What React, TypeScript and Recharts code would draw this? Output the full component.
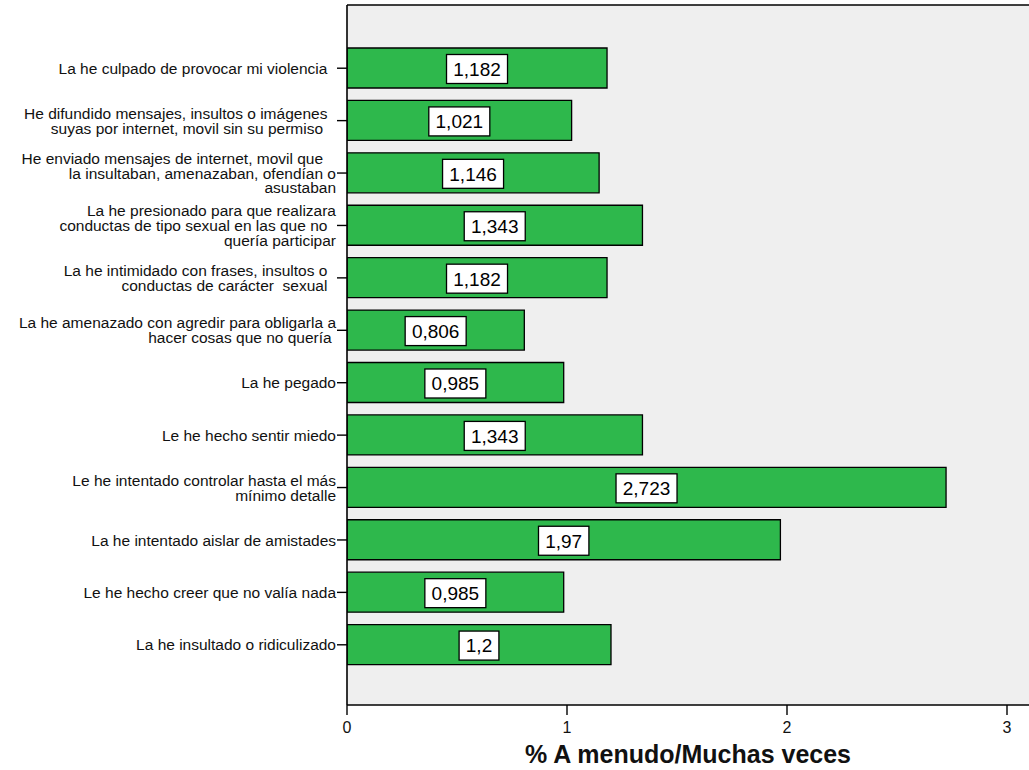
import React from 'react';
import { BarChart, Bar, XAxis, YAxis, CartesianGrid, LabelList } from 'recharts';

// category labels, line breaks as in the original (trailing spaces kept)
const categories = [
  'La he culpado de provocar mi violencia  ',
  'He difundido mensajes, insultos o imágenes  \nsuyas por internet, movil sin su permiso   ',
  'He enviado mensajes de internet, movil que   \nla insultaban, amenazaban, ofendían o\nasustaban',
  'La he presionado para que realizara\nconductas de tipo sexual en las que no  \nquería participar',
  'La he intimidado con frases, insultos o  \nconductas de carácter  sexual  ',
  'La he amenazado con agredir para obligarla a\nhacer cosas que no quería ',
  'La he pegado',
  'Le he hecho sentir miedo',
  'Le he intentado controlar hasta el más\nmínimo detalle',
  'La he intentado aislar de amistades',
  'Le he hecho creer que no valía nada',
  'La he insultado o ridiculizado',
];
const values = [1.182, 1.021, 1.146, 1.343, 1.182, 0.806, 0.985, 1.343, 2.723, 1.97, 0.985, 1.2];
const valueLabels = ['1,182', '1,021', '1,146', '1,343', '1,182', '0,806', '0,985', '1,343', '2,723', '1,97', '0,985', '1,2'];
const xTicks = [0, 1, 2, 3];

const data = categories.map((name, i) => ({ name, value: values[i], label: valueLabels[i] }));

const FONT = '"Liberation Sans", Arial, sans-serif';

const CategoryTick = ({ x, y, payload }: any) => {
  const lines = String(payload.value).split('\n');
  const lh = 14.8;
  return (
    <text x={x} y={y} textAnchor="end" fontFamily={FONT} fontSize={15.5} fill="#111" style={{ whiteSpace: 'pre' }}>
      {lines.map((l, i) => (
        <tspan key={i} x={x} y={y + (i - (lines.length - 1) / 2) * lh} dy="0.36em">{l}</tspan>
      ))}
    </text>
  );
};

const ValueTick = ({ x, y, payload }: any) => (
  <text x={x} y={y} dy="0.71em" textAnchor="middle" fontFamily={FONT} fontSize={16} fill="#111">
    {payload.value}
  </text>
);

const ValueBox = ({ x, y, width, height, value }: any) => {
  const txt = String(value);
  const w = txt.length * 10.6 + 8;
  const h = 29;
  const cx = x + width / 2;
  const cy = y + height / 2 + 1;
  return (
    <g>
      <rect x={cx - w / 2} y={cy - h / 2} width={w} height={h} fill="#fff" stroke="#000" strokeWidth={1.3} />
      <text x={cx} y={cy} dy="0.36em" textAnchor="middle" fontFamily={FONT} fontSize={19} fill="#000">{txt}</text>
    </g>
  );
};

export default function App() {
  return (
    <div style={{ position: 'absolute', left: 0, top: 0, background: '#fff' }}>
      <BarChart
        width={1029}
        height={770}
        data={data}
        layout="vertical"
        margin={{ top: 5, right: 0, left: 0, bottom: 0 }}
      >
        <CartesianGrid
          fill="#efefef"
          vertical={false}
          stroke="#000"
          strokeWidth={1.6}
          horizontalCoordinatesGenerator={({ offset }: any) => [offset.top]}
        />
        <XAxis
          type="number"
          domain={[0, 3.1]}
          ticks={xTicks}
          allowDataOverflow
          height={65}
          tickSize={10}
          tickMargin={7}
          axisLine={{ stroke: '#000', strokeWidth: 1.6 }}
          tickLine={{ stroke: '#000', strokeWidth: 1.4 }}
          tick={<ValueTick />}
          label={{
            value: '% A menudo/Muchas veces',
            position: 'insideBottom',
            offset: 7,
            style: { fontFamily: FONT, fontSize: 25, fontWeight: 'bold', fill: '#111' },
          }}
        />
        <YAxis
          type="category"
          dataKey="name"
          width={347}
          padding={{ top: 37, bottom: 34 }}
          tickSize={10}
          tickMargin={1}
          interval={0}
          axisLine={{ stroke: '#000', strokeWidth: 1.6 }}
          tickLine={{ stroke: '#000', strokeWidth: 1.4 }}
          tick={<CategoryTick />}
        />
        <Bar dataKey="value" barSize={40} fill="#2eb84c" stroke="#000" strokeWidth={1.3} isAnimationActive={false}>
          <LabelList dataKey="label" content={<ValueBox />} />
        </Bar>
      </BarChart>
    </div>
  );
}
